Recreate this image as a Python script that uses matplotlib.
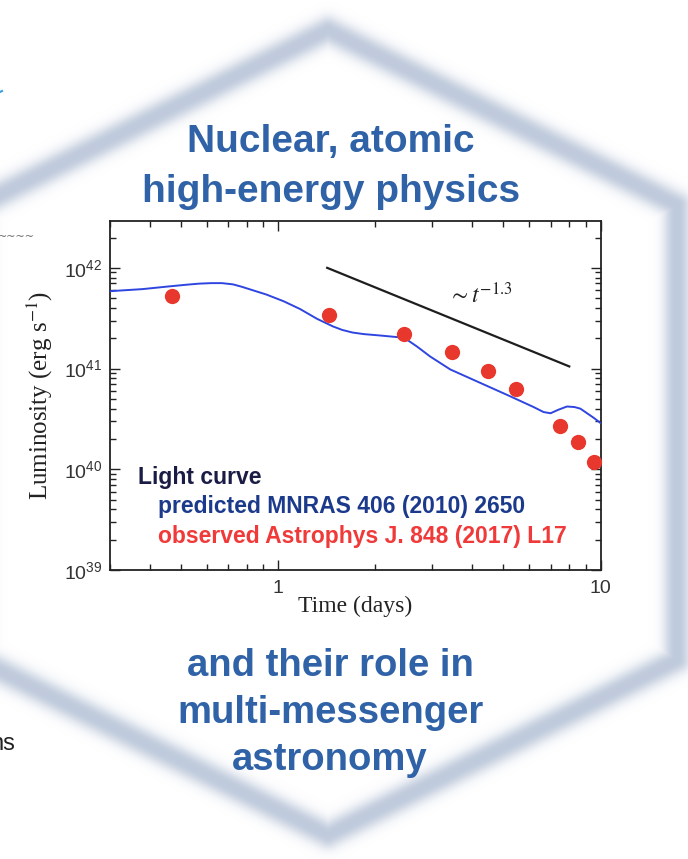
import numpy as np
import matplotlib.pyplot as plt
from matplotlib.ticker import LogLocator, FuncFormatter, NullFormatter

# light curve: model prediction (line) and observed luminosities (dots)
t_model = [0.30, 0.38, 0.45, 0.52, 0.57, 0.62, 0.67, 0.725, 0.77, 0.82, 0.92, 1.04,
           1.17, 1.32, 1.48, 1.58, 1.70, 1.84, 2.07, 2.35, 2.52, 2.70, 2.96, 3.42,
           4.24, 5.25, 6.20, 6.66, 7.0, 7.4, 7.87, 8.30, 8.66, 9.53, 10.0]
L_model = [5.86e41, 6.15e41, 6.5e41, 6.8e41, 6.97e41, 7.05e41, 7.05e41, 6.85e41,
           6.5e41, 6.1e41, 5.43e41, 4.66e41, 3.9e41, 3.12e41, 2.62e41, 2.42e41,
           2.28e41, 2.2e41, 2.13e41, 2.05e41, 1.92e41, 1.65e41, 1.32e41, 9.8e40,
           7.2e40, 5.3e40, 4.15e40, 3.7e40, 3.6e40, 3.9e40, 4.2e40, 4.15e40,
           4.0e40, 3.24e40, 2.88e40]

t_obs = [0.47, 1.44, 2.45, 3.46, 4.47, 5.47, 7.47, 8.5, 9.53]
L_obs = [5.2e41, 3.4e41, 2.2e41, 1.45e41, 9.4e40, 6.2e40, 2.7e40, 1.85e40, 1.18e40]

# power-law guide ~ t^-1.3
t_pl = [1.42, 8.0]
L_pl = [1.0e42, 1.05e41]

title_top = ["Nuclear, atomic", "high-energy physics"]
title_bottom = ["and their role in", "multi-messenger", "astronomy"]
legend_lines = ["Light curve", "predicted MNRAS 406 (2010) 2650",
                "observed Astrophys J. 848 (2017) L17"]

W, H = 688, 859
fig = plt.figure(figsize=(W / 100, H / 100), dpi=100)
fig.patch.set_facecolor("white")

# background layer in pixel coordinates
bg = fig.add_axes([0, 0, 1, 1])
bg.set_xlim(0, W)
bg.set_ylim(H, 0)
bg.axis("off")

# soft hexagon outline
hexagon = np.array([[328, 30], [677, 205], [677, 660], [328, 835],
                    [-21, 660], [-21, 205], [328, 30]], float)
yy, xx = np.mgrid[0:H, 0:W] + 0.5
dist = np.full((H, W), 1e9)
for (x0, y0), (x1, y1) in zip(hexagon[:-1], hexagon[1:]):
    dx, dy = x1 - x0, y1 - y0
    u = np.clip(((xx - x0) * dx + (yy - y0) * dy) / (dx * dx + dy * dy), 0, 1)
    d = np.hypot(xx - (x0 + u * dx), yy - (y0 + u * dy))
    dist = np.minimum(dist, d)
alpha = 0.92 * np.exp(-(np.maximum(dist - 2, 0) / 11.5) ** 2)
band = np.zeros((H, W, 4))
band[..., :3] = np.array([186, 198, 217]) / 255
band[..., 3] = alpha
bg.imshow(band, extent=(0, W, H, 0), interpolation="bilinear", zorder=0)

blue = "#2f62a6"
for i, s in enumerate(title_top):
    bg.text(331, 152 + 49.5 * i, s, ha="center", va="baseline", color=blue,
            fontsize=28, fontweight="bold", family="Liberation Sans")
for i, s in enumerate(title_bottom):
    bg.text(330, 676 + 47 * i, s, ha="center", va="baseline", color=blue,
            fontsize=27.5, fontweight="bold", family="Liberation Sans")

# bits of neighbouring content at the left edge
bg.text(-10, 750, "ns", ha="left", va="baseline", fontsize=17,
        family="Liberation Sans", color="#222222")
bg.text(-2, 240, "~~~~", ha="left", va="baseline", fontsize=8,
        family="DejaVu Sans", color="#666666")
bg.plot([0, 2], [92, 91], color="#3aa0e0", lw=1.5)

# main chart
ax = fig.add_axes([109.5 / W, (H - 570) / H, 491 / W, 349.5 / H])
ax.set_facecolor("white")
ax.set_xscale("log")
ax.set_yscale("log")
ax.set_xlim(0.3, 10)
ax.set_ylim(1e39, 10 ** 42.47)

ax.plot(t_model, L_model, color="#2f45e0", lw=1.4, zorder=3)
ax.plot(t_obs, L_obs, "o", color="#e8372d", ms=11, mec="none", zorder=4,
        clip_on=False)
ax.plot(t_pl, L_pl, color="#1e1e1e", lw=1.6, zorder=3)
ax.text(4.25, 5.3e41, r"$\sim t^{-1.3}$", ha="center", va="center",
        fontsize=17, math_fontfamily="stix", color="#222222")

for sp in ax.spines.values():
    sp.set_linewidth(1.3)
    sp.set_color("#222222")

ax.xaxis.set_major_locator(LogLocator(base=10, numticks=10))
ax.xaxis.set_minor_locator(LogLocator(base=10, subs=np.arange(2, 10), numticks=10))
ax.yaxis.set_major_locator(LogLocator(base=10, numticks=10))
ax.yaxis.set_minor_locator(LogLocator(base=10, subs=np.arange(2, 10), numticks=10))
ax.xaxis.set_major_formatter(FuncFormatter(lambda v, p: "%g" % v))
ax.yaxis.set_major_formatter(
    FuncFormatter(lambda v, p: r"$\mathregular{10^{%d}}$" % round(np.log10(v))))
ax.xaxis.set_minor_formatter(NullFormatter())
ax.yaxis.set_minor_formatter(NullFormatter())
ax.tick_params(which="both", direction="in", top=True, right=True,
               color="#222222", width=1.0)
ax.tick_params(which="major", length=7)
ax.tick_params(which="minor", length=4)
ax.tick_params(axis="x", which="major", pad=7)
ax.tick_params(axis="y", which="major", pad=5)
for lab in ax.get_xticklabels() + ax.get_yticklabels():
    lab.set_family("Liberation Sans")
    lab.set_fontsize(14)
    lab.set_color("#333333")

ax.set_xlabel("Time (days)", family="Liberation Serif", fontsize=17,
              color="#222222")
ax.xaxis.set_label_coords(0.5, -0.075)
ax.set_ylabel(r"Luminosity (erg s$^{-1}$)", family="Liberation Serif",
              fontsize=18, math_fontfamily="stix", color="#222222")
ax.yaxis.set_label_coords(-0.112, 0.5)

# legend text block
legend_colors = ["#1a1c45", "#1b3a8c", "#f03a3a"]
legend_x = [138, 158, 158]
for i, (s, c, x) in enumerate(zip(legend_lines, legend_colors, legend_x)):
    fig.text(x / W, 1 - (478 + 29 * i) / H, s, ha="left", va="center",
             color=c, fontsize=16.5, fontweight="bold", family="Liberation Sans")

fig.savefig("out.png", dpi=100)
